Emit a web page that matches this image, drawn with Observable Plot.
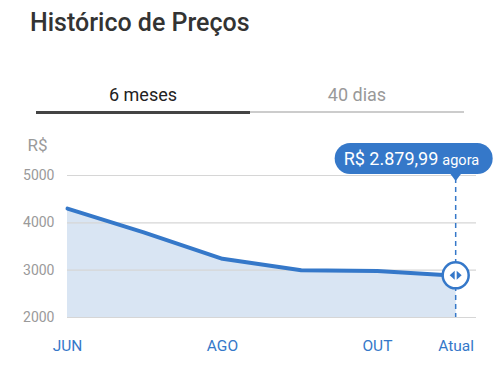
<!DOCTYPE html>
<html>
<head>
<meta charset="utf-8">
<script src="https://cdn.jsdelivr.net/npm/d3@7"></script>
<script src="https://cdn.jsdelivr.net/npm/@observablehq/plot@0.6"></script>
<style>
  html, body { margin: 0; padding: 0; background: #fff; }
  body { width: 500px; height: 368px; position: relative; overflow: hidden; font-family: Roboto, "Noto Sans", sans-serif; }
  #title { position: absolute; left: 30px; top: 8px; font-size: 25px; font-weight: 500; color: #333; }
  .tab { position: absolute; top: 84px; font-size: 18px; width: 214px; text-align: center; }
  #tab1 { left: 36px; color: #222; }
  #tab2 { left: 250px; color: #999; }
  #ul1 { position: absolute; left: 36px; top: 111px; width: 214px; height: 3px; background: #444; }
  #ul2 { position: absolute; left: 250px; top: 111px; width: 214px; height: 2px; background: #ccc; }
  #chart { position: absolute; left: 0; top: 120px; }
</style>
</head>
<body>
<div id="title">Histórico de Preços</div>
<div class="tab" id="tab1">6 meses</div>
<div class="tab" id="tab2">40 dias</div>
<div id="ul1"></div>
<div id="ul2"></div>
<div id="chart"></div>
<script>
const months = ["2023-06-01", "2023-07-01", "2023-08-01", "2023-09-01", "2023-10-01", "2023-11-01"];
const prices = [4300, 3800, 3240, 3000, 2980, 2879.99];
const tickDates = ["2023-06-01", "2023-08-01", "2023-10-01", "2023-11-01"];
const tickLabels = ["JUN", "AGO", "OUT", "Atual"];
const yTicks = [2000, 3000, 4000, 5000];
const currentLabel = "R$ 2.879,99";
const currentSuffix = "agora";

const data = months.map((m, i) => ({date: new Date(m), price: prices[i]}));
const ticks = tickDates.map(d => new Date(d));
const labelOf = new Map(ticks.map((d, i) => [+d, tickLabels[i]]));
const last = data[data.length - 1];

const blue = "#3578c9";

const bubble = (index, scales, values, dimensions) => {
  const x = scales.x(last.date);
  const y = scales.y(last.price);
  const yTop = scales.y(5000);
  const yBot = scales.y(2000);
  const g = d3.create("svg:g");
  const bx = x - 121, bw = 158, by = yTop - 32, bh = 31;
  g.append("line").attr("x1", x).attr("x2", x).attr("y1", by + bh + 4).attr("y2", yBot)
    .attr("stroke", blue).attr("stroke-width", 1.5).attr("stroke-dasharray", "5,4");
  g.append("rect").attr("x", bx).attr("y", by).attr("width", bw).attr("height", bh)
    .attr("rx", 15.5).attr("fill", blue);
  g.append("path").attr("d", `M${x - 6},${by + bh - 1}L${x + 6},${by + bh - 1}L${x},${by + bh + 7}Z`).attr("fill", blue);
  const t = g.append("text").attr("x", bx + 9).attr("y", by + 22).attr("fill", "white")
    .attr("text-anchor", "start").attr("font-family", "Roboto, sans-serif");
  t.append("tspan").attr("font-size", 18).text(currentLabel);
  t.append("tspan").attr("font-size", 14.5).attr("dx", 4).text(currentSuffix);
  g.append("circle").attr("cx", x).attr("cy", y).attr("r", 13).attr("fill", "white")
    .attr("stroke", blue).attr("stroke-width", 2.5);
  g.append("path").attr("d", `M${x - 1},${y - 4.5}L${x - 1},${y + 4.5}L${x - 6},${y}Z`).attr("fill", blue);
  g.append("path").attr("d", `M${x + 1},${y - 4.5}L${x + 1},${y + 4.5}L${x + 6},${y}Z`).attr("fill", blue);
  return g.node();
};

const chart = Plot.plot({
  width: 500,
  height: 248,
  marginLeft: 67,
  marginRight: 24,
  marginTop: 55,
  marginBottom: 51,
  style: {fontFamily: "Roboto, sans-serif", background: "transparent"},
  x: {type: "utc", domain: [new Date("2023-06-01"), new Date("2023-11-09")]},
  y: {domain: [2000, 5000]},
  marks: [
    Plot.areaY(data, {x: "date", y1: 2000, y2: "price", fill: "#d9e5f3"}),
    Plot.gridY(yTicks, {stroke: "#d6d6d6", strokeOpacity: 1, strokeWidth: 1.2}),
    Plot.axisY(yTicks, {tickSize: 0, tickPadding: 13, fontSize: 14, fill: "#9a9a9a", label: null,
      tickFormat: d => String(d)}),
    Plot.axisX(ticks, {tickSize: 0, tickPadding: 22, fontSize: 15.5, fill: blue, label: null,
      tickFormat: d => labelOf.get(+d)}),
    Plot.text(["R$"], {frameAnchor: "top-left", lineAnchor: "middle", dx: -40, dy: -30, textAnchor: "start", fontSize: 17, fill: "#9a9a9a"}),
    Plot.lineY(data, {x: "date", y: "price", stroke: blue, strokeWidth: 4, strokeLinejoin: "round"}),
    bubble
  ]
});
document.getElementById("chart").appendChild(chart);
</script>
</body>
</html>
